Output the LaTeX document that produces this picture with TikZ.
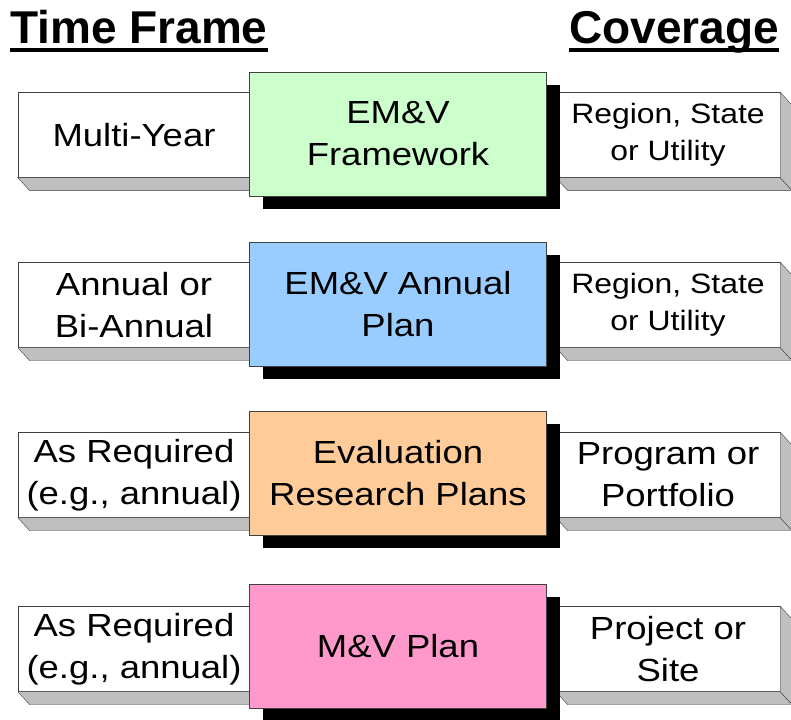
\documentclass[tikz,border=0pt]{standalone}
\usepackage{fontspec}
\setmainfont{Liberation Sans}[FakeStretch=1.14]
\newfontfamily\headfont{Liberation Sans}
\usepackage{tikz}
\usetikzlibrary{calc,shadows}

\definecolor{framegreen}{HTML}{CCFFCC}
\definecolor{annualblue}{HTML}{99CCFF}
\definecolor{researchorange}{HTML}{FFCC99}
\definecolor{mvpink}{HTML}{FF99CC}

\begin{document}
\begin{tikzpicture}[x=1pt,y=-1pt]
\tikzset{
	head node/.style = {inner sep = 0, font = \headfont\bfseries\fontsize{46}{50}\selectfont},
	side node/.style = {draw = black!75, fill = white, minimum height = 85, inner sep = 0, align = center, font = \fontsize{32}{42}\selectfont},
	time node/.style = {side node, minimum width = 232},
	cover node/.style = {side node, minimum width = 224},
	plan node/.style = {draw = black!75, minimum width = 297, minimum height = 124, inner sep = 0, align = center,
		font = \fontsize{32}{42}\selectfont,
		drop shadow = {shadow xshift = 13pt, shadow yshift = -13pt, fill = black, opacity = 1}},
	side face/.style = {draw = black!75, fill = black!25},
}
\useasboundingbox (0,0) rectangle (791,719);

% headings
\node(tf)[head node, anchor = base west] at (10,44) {Time Frame};
\node(cv)[head node, anchor = base east] at (779,44) {Coverage};
\draw [line width = 4] ($(tf.base west)+(0,6)$) to ($(tf.base east)+(0,6)$);
\draw [line width = 4] ($(cv.base west)+(0,6)$) to ($(cv.base east)+(0,6)$);

% time frame
\node(time1)[time node] at (134,135) {Multi-Year};
\node(time2)[time node] at (134,305) {Annual or\\Bi-Annual};
\node(time3)[time node] at (134,475) {As Required\\(e.g., annual)};
\node(time4)[time node] at (134,649) {As Required\\(e.g., annual)};

% coverage
\node(cover1)[cover node, font = \fontsize{28}{37}\selectfont] at (668,135) {Region, State\\or Utility};
\node(cover2)[cover node, font = \fontsize{28}{37}\selectfont] at (668,305) {Region, State\\or Utility};
\node(cover3)[cover node] at (668,475) {Program or\\Portfolio};
\node(cover4)[cover node] at (668,649) {Project or\\Site};

\foreach \n in {time1,time2,time3,time4,cover1,cover2,cover3,cover4}
	\draw [side face] (\n.south west) -- ++(12,13) -- ($(\n.south east)+(12,13)$) -- (\n.south east) -- cycle;
\foreach \n in {cover1,cover2,cover3,cover4}
	\draw [side face] (\n.north east) -- ++(12,13) -- ($(\n.south east)+(12,13)$) -- (\n.south east) -- cycle;

% plans
\node(plan1)[plan node, fill = framegreen] at (398,134) {EM\&V\\Framework};
\node(plan2)[plan node, fill = annualblue] at (398,304) {EM\&V Annual\\Plan};
\node(plan3)[plan node, fill = researchorange] at (398,473) {Evaluation\\Research Plans};
\node(plan4)[plan node, fill = mvpink] at (398,646) {M\&V Plan};

\end{tikzpicture}
\end{document}
